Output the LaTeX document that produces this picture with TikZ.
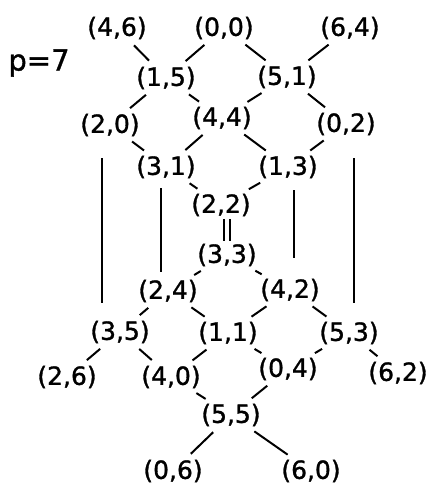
\documentclass[tikz,border=0pt]{standalone}
\usepackage{fontspec}
\setmainfont{DejaVu Sans}[FakeBold=1.2]
\usetikzlibrary{positioning,calc}
\newcommand{\lat}[3]{\node[pair] (#1) at (#2) {#3};}
\tikzset{pair/.style={font=\fontsize{25}{28}\selectfont,inner sep=1pt},
  link/.style={line width=2pt,shorten >=7pt,shorten <=7pt},
  rail/.style={line width=2pt}}

\begin{document}
\begin{tikzpicture}[x=1pt,y=-1pt]
\useasboundingbox (0,0) rectangle (427,486);
\node[font=\fontsize{29}{32}\selectfont,inner sep=0pt] (prime) at (39,63) {p=7};
\lat{n46}{117,28}{(4,6)} \lat{n00}{224,28}{(0,0)} \lat{n64}{350,28}{(6,4)}
\lat{n15}{166,78}{(1,5)} \lat{n51}{287,77}{(5,1)}
\lat{n20}{110,125}{(2,0)} \lat{n44}{222,118}{(4,4)} \lat{n02}{346,124}{(0,2)}
\lat{n31}{166,167}{(3,1)} \lat{n13}{288,167}{(1,3)}
\lat{n22}{221,205}{(2,2)}
\lat{n33}{227,255}{(3,3)}
\lat{n24}{168,291}{(2,4)} \lat{n42}{290,290}{(4,2)}
\lat{n35}{120,332}{(3,5)} \lat{n11}{228,333}{(1,1)} \lat{n53}{349,333}{(5,3)}
\lat{n26}{67,377}{(2,6)} \lat{n40}{171,377}{(4,0)} \lat{n04}{288,369}{(0,4)} \lat{n62}{398,373}{(6,2)}
\lat{n55}{231,415}{(5,5)}
\lat{n06}{173,471}{(0,6)} \lat{n60}{311,471}{(6,0)}

\draw[link] (n46) -- (n15); \draw[link] (n00) -- (n15);
\draw[link] (n00) -- (n51); \draw[link] (n64) -- (n51);
\draw[link] (n15) -- (n20); \draw[link] (n15) -- (n44);
\draw[link] (n51) -- (n44); \draw[link] (n51) -- (n02);
\draw[link] (n20) -- (n31); \draw[link] (n44) -- (n31);
\draw[link] (n44) -- (n13); \draw[link] (n02) -- (n13);
\draw[link] (n31) -- (n22); \draw[link] (n13) -- (n22);
\draw[line width=1.8pt,double distance=4.5pt,shorten <=2pt,shorten >=2pt] (n33.north |- n22.south) -- (n33.north);
\draw[link] (n33) -- (n24); \draw[link] (n33) -- (n42);
\draw[link] (n24) -- (n35); \draw[link] (n24) -- (n11);
\draw[link] (n42) -- (n11); \draw[link] (n42) -- (n53);
\draw[link] (n35) -- (n26); \draw[link] (n35) -- (n40);
\draw[link] (n11) -- (n40); \draw[link] (n11) -- (n04);
\draw[link] (n53) -- (n04); \draw[link] (n53) -- (n62);
\draw[link] (n40) -- (n55); \draw[link] (n04) -- (n55);
\draw[link] (n55) -- (n06); \draw[link] (n55) -- (n60);

\draw[rail,shorten <=21pt,shorten >=17pt] ([xshift=-8pt]n20.south) -- ([xshift=-8pt]n20.south |- n35.north);
\draw[rail,shorten <=9pt,shorten >=7pt] ([xshift=-5pt]n31.south) -- ([xshift=-5pt]n31.south |- n24.north);
\draw[rail,shorten <=11pt,shorten >=20pt] ([xshift=6pt]n13.south) -- ([xshift=6pt]n13.south |- n42.north);
\draw[rail,shorten <=22pt,shorten >=18pt] ([xshift=8pt]n02.south) -- ([xshift=8pt]n02.south |- n53.north);
\end{tikzpicture}
\end{document}
